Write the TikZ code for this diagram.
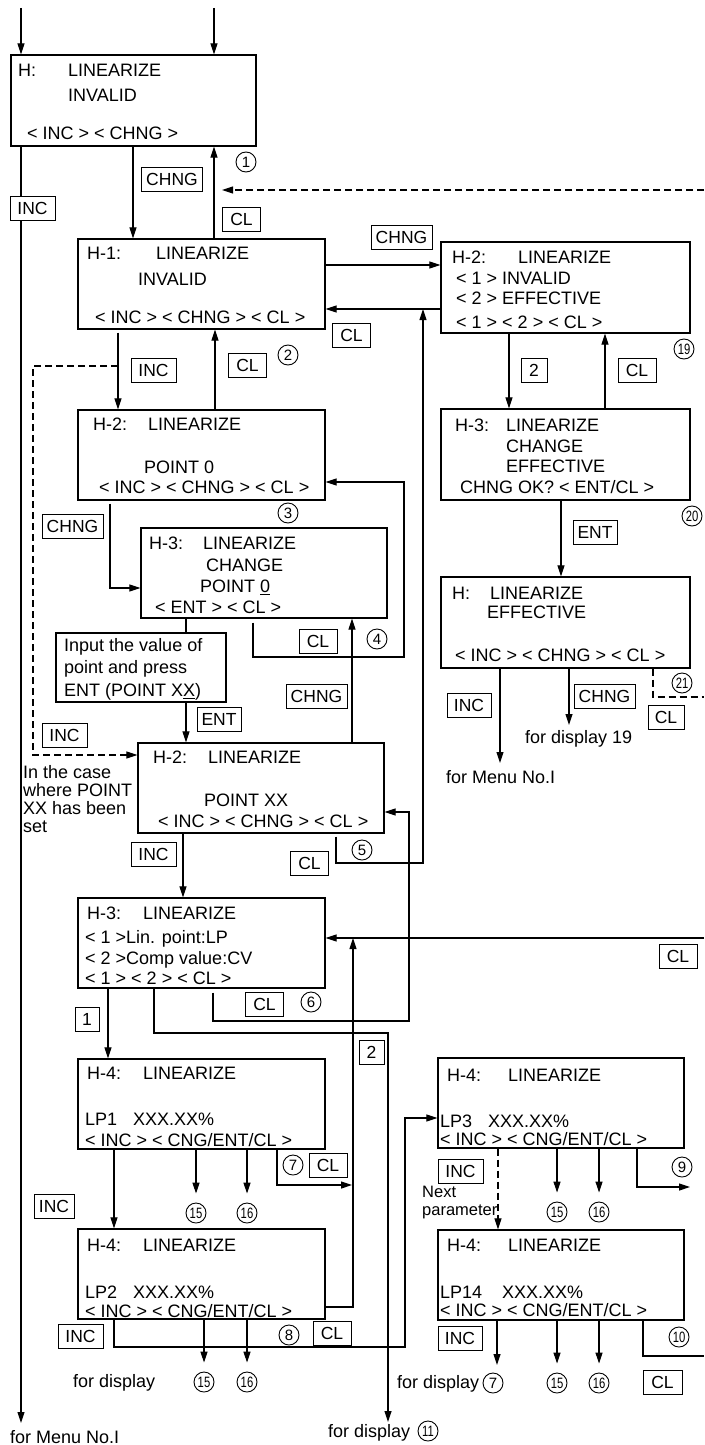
\documentclass[tikz,border=0pt]{standalone}
\usepackage{fontspec}
\setmainfont{Liberation Sans}
\usetikzlibrary{arrows.meta}
\newcommand\dtxt{\fontsize{18pt}{20pt}\selectfont}
\newcommand\stxt{\fontsize{16.5pt}{18pt}\selectfont}
\newcommand\ktxt{\fontsize{17.5pt}{19pt}\selectfont}
\newcommand\ntxt{\fontsize{15pt}{16pt}\selectfont}
\newcommand\nn[1]{\scalebox{0.75}[1]{#1}}
\begin{document}
\begin{tikzpicture}[x=1pt,y=-1pt,
 disp/.style={draw, line width=1.2pt, inner sep=0pt},
 txt/.style={anchor=base west, inner sep=0pt, font=\dtxt},
 key/.style={draw, fill=white, line width=1pt, minimum height=24pt, minimum width=#1, inner xsep=3pt, inner ysep=0pt, font=\ktxt},
 key/.default=24pt,
 num/.style={draw, circle, line width=0.9pt, minimum size=20pt, inner sep=0pt, font=\ntxt},
 arr/.style={line width=1.1pt, -{Triangle[length=11pt,width=7pt]}},
 ln/.style={line width=1.1pt},
 dsh/.style={dash pattern=on 7pt off 4pt}]
\fill[white] (0,0) rectangle (704,1445);
\useasboundingbox (0,0) rectangle (704,1445);

% ---------- display boxes ----------
\node[disp, minimum width=245pt, minimum height=91pt] (h0)  at (133.5,100.5) {};
\node[disp, minimum width=247pt, minimum height=90pt] (h1)  at (201.5,284) {};
\node[disp, minimum width=249pt, minimum height=91pt] (r2)  at (565.5,287.5) {};
\node[disp, minimum width=247pt, minimum height=90pt] (h2a) at (201.5,455) {};
\node[disp, minimum width=246pt, minimum height=90pt] (h3a) at (264,573) {};
\node[disp, minimum width=170pt, minimum height=69pt] (note) at (141,667.5) {};
\node[disp, minimum width=246pt, minimum height=90pt] (h2b) at (261,788) {};
\node[disp, minimum width=247pt, minimum height=90pt] (h3b) at (201.5,943) {};
\node[disp, minimum width=247pt, minimum height=90pt] (lp1) at (201.5,1104) {};
\node[disp, minimum width=247pt, minimum height=90pt] (lp2) at (201.5,1274) {};
\node[disp, minimum width=249pt, minimum height=91pt] (r3)  at (565.5,454.5) {};
\node[disp, minimum width=249pt, minimum height=91pt] (rH)  at (565.5,622.5) {};
\node[disp, minimum width=246pt, minimum height=90pt] (lp3) at (561,1103) {};
\node[disp, minimum width=246pt, minimum height=90pt] (lp14) at (561,1275) {};

% ---------- texts in boxes ----------
\node[txt] (t01) at (18,76.5) {H:};
\node[txt] (t02) at (68,76.5) {LINEARIZE};
\node[txt] (t03) at (68,101.5) {INVALID};
\node[txt] (t04) at (27,139.5) {< INC > < CHNG >};

\node[txt] (t11) at (87,259.5) {H-1:};
\node[txt] (t12) at (156,259.5) {LINEARIZE};
\node[txt] (t13) at (138,285.5) {INVALID};
\node[txt] (t14) at (95,323.5) {< INC > < CHNG > < CL >};

\node[txt] (t21) at (452,263.5) {H-2:};
\node[txt] (t22) at (518,263.5) {LINEARIZE};
\node[txt] (t23) at (456,284.5) {< 1 > INVALID};
\node[txt] (t24) at (456,304.5) {< 2 > EFFECTIVE};
\node[txt] (t25) at (456,328.5) {< 1 > < 2 > < CL >};

\node[txt] (t31) at (93,430.5) {H-2:};
\node[txt] (t32) at (148,430.5) {LINEARIZE};
\node[txt] (t33) at (144,473.5) {POINT 0};
\node[txt] (t34) at (99,493.5) {< INC > < CHNG > < CL >};

\node[txt] (t41) at (149,549.5) {H-3:};
\node[txt] (t42) at (203,549.5) {LINEARIZE};
\node[txt] (t43) at (206,571.5) {CHANGE};
\node[txt] (t44) at (200,592.5) {POINT \underline{0}};
\node[txt] (t45) at (155,613.5) {< ENT > < CL >};

\node[txt] (t51) at (64,651.5) {Input the value of};
\node[txt] (t52) at (64,673.5) {point and press};
\node[txt] (t53) at (64,696.5) {ENT (POINT X\underline{X})};

\node[txt] (t61) at (153,763.5) {H-2:};
\node[txt] (t62) at (208,763.5) {LINEARIZE};
\node[txt] (t63) at (204,806.5) {POINT XX};
\node[txt] (t64) at (158,827.5) {< INC > < CHNG > < CL >};

\node[txt] (t71) at (87,919.5) {H-3:};
\node[txt] (t72) at (143,919.5) {LINEARIZE};
\node[txt] (t73) at (85,943.5) {< 1 >Lin. point:LP};
\node[txt] (t74) at (85,964.5) {< 2 >Comp value:CV};
\node[txt] (t75) at (85,984.5) {< 1 > < 2 > < CL >};

\node[txt] (t81) at (87,1079.5) {H-4:};
\node[txt] (t82) at (143,1079.5) {LINEARIZE};
\node[txt] (t83) at (85,1125.5) {LP1};
\node[txt] (t84) at (133,1125.5) {XXX.XX\%};
\node[txt] (t85) at (85,1146) {< INC > < CNG/ENT/CL >};

\node[txt] (t91) at (87,1251.5) {H-4:};
\node[txt] (t92) at (143,1251.5) {LINEARIZE};
\node[txt] (t93) at (85,1298) {LP2};
\node[txt] (t94) at (133,1298) {XXX.XX\%};
\node[txt] (t95) at (85,1317) {< INC > < CNG/ENT/CL >};

\node[txt] (ta1) at (455,431.5) {H-3:};
\node[txt] (ta2) at (506,431.5) {LINEARIZE};
\node[txt] (ta3) at (506,452.5) {CHANGE};
\node[txt] (ta4) at (506,472.5) {EFFECTIVE};
\node[txt] (ta5) at (460,493.5) {CHNG OK? < ENT/CL >};

\node[txt] (tb1) at (452,599.5) {H:};
\node[txt] (tb2) at (490,599.5) {LINEARIZE};
\node[txt] (tb3) at (487,618.5) {EFFECTIVE};
\node[txt] (tb4) at (455,661.5) {< INC > < CHNG > < CL >};

\node[txt] (tc1) at (447,1081.5) {H-4:};
\node[txt] (tc2) at (508,1081.5) {LINEARIZE};
\node[txt] (tc3) at (440,1127) {LP3};
\node[txt] (tc4) at (488,1127) {XXX.XX\%};
\node[txt] (tc5) at (440,1145) {< INC > < CNG/ENT/CL >};

\node[txt] (td1) at (447,1251.5) {H-4:};
\node[txt] (td2) at (508,1251.5) {LINEARIZE};
\node[txt] (td3) at (440,1298) {LP14};
\node[txt] (td4) at (502,1298) {XXX.XX\%};
\node[txt] (td5) at (440,1316.5) {< INC > < CNG/ENT/CL >};

% ---------- free texts ----------
\node[txt] (f1) at (23,778.5) {In the case};
\node[txt] (f2) at (23,796.5) {where POINT};
\node[txt] (f3) at (23,814.5) {XX has been};
\node[txt] (f4) at (23,832.5) {set};
\node[txt, font=\stxt] (f5) at (422,1197) {Next};
\node[txt, font=\stxt] (f6) at (422,1215.5) {parameter};
\node[txt] (f7) at (525,743.5) {for display 19};
\node[txt] (f8) at (446,783.5) {for Menu No.I};
\node[txt] (f9) at (73,1387.5) {for display};
\node[txt] (f10) at (397,1388.5) {for display};
\node[txt] (f11) at (328,1437.5) {for display};
\node[txt] (f12) at (10,1443) {for Menu No.I};

% ---------- circled numbers ----------
\node[num] (n1) at (246,162) {1};
\node[num] (n2) at (288,355) {2};
\node[num] (n3) at (288,513) {3};
\node[num] (n4) at (377,639) {4};
\node[num] (n5) at (362,850) {5};
\node[num] (n6) at (311,1002) {6};
\node[num] (n7) at (293,1165) {7};
\node[num] (n8) at (289,1335) {8};
\node[num] (n9) at (682,1167) {9};
\node[num] (n10) at (679,1337) {\nn{10}};
\node[num] (n15a) at (196,1213) {\nn{15}};
\node[num] (n16a) at (247,1213) {\nn{16}};
\node[num] (n15b) at (204,1382) {\nn{15}};
\node[num] (n16b) at (247,1382) {\nn{16}};
\node[num] (n15c) at (557,1212) {\nn{15}};
\node[num] (n16c) at (599,1212) {\nn{16}};
\node[num] (n15d) at (557,1383) {\nn{15}};
\node[num] (n16d) at (599,1383) {\nn{16}};
\node[num] (n7b) at (493,1383) {7};
\node[num] (n11) at (428,1431) {\nn{11}};
\node[num] (n19) at (684,349) {\nn{19}};
\node[num] (n20) at (692,516) {\nn{20}};
\node[num] (n21) at (682,683) {\nn{21}};

% ---------- connectors ----------
\coordinate (t1) at (21,8);
\coordinate (t2) at (214,8);
\coordinate (m1) at (21,1423);
\coordinate (x133) at (133,0);
\coordinate (d1) at (704,190);
\coordinate (d2) at (222,190);
\coordinate (y265) at (0,265);
\coordinate (y309) at (0,309);
\coordinate (c5a) at (336,863);
\coordinate (c5b) at (423,863);
\coordinate (c5c) at (423,309);
\coordinate (x118) at (118,0);
\coordinate (x215) at (215,0);
\coordinate (e1) at (118,366);
\coordinate (e2) at (33,366);
\coordinate (e3) at (33,755);
\coordinate (g0) at (110,588);
\coordinate (g1) at (253,657);
\coordinate (g2) at (404,657);
\coordinate (g3) at (404,482);
\coordinate (x186) at (186,0);
\coordinate (x352) at (352,0);
\coordinate (x183) at (183,0);
\coordinate (p6a) at (213,1021);
\coordinate (p6b) at (409,1021);
\coordinate (p6c) at (409,812);
\coordinate (q1) at (704,938);
\coordinate (x108) at (108,0);
\coordinate (s1) at (154,1033);
\coordinate (s2) at (388,1033);
\coordinate (s3) at (388,1422);
\coordinate (x114) at (114,0);
\coordinate (u1) at (277,1185);
\coordinate (u2) at (352,1185);
\coordinate (v1) at (353,1307);
\coordinate (v2) at (353,938);
\coordinate (w1) at (114,1347);
\coordinate (w2) at (405,1347);
\coordinate (w3) at (405,1118);
\coordinate (x498) at (498,0);
\coordinate (z1) at (637,1187);
\coordinate (z2) at (690,1187);
\coordinate (x497) at (497,1365);
\coordinate (z3) at (643,1356);
\coordinate (z4) at (704,1356);
\coordinate (x509) at (509,0);
\coordinate (x605) at (605,0);
\coordinate (x561) at (561,0);
\coordinate (r500) at (500,763);
\coordinate (r569) at (569,725);
\coordinate (o1) at (653,697);
\coordinate (o2) at (704,697);

\draw[arr] (t1) -- (t1 |- h0.north);
\draw[arr] (t2) -- (t2 |- h0.north);
\draw[arr] (m1 |- h0.south) -- (m1);
\draw[arr] (x133 |- h0.south) -- (x133 |- h1.north);
\draw[arr] (t2 |- h1.north) -- (t2 |- h0.south);
\draw[arr, dsh] (d1) -- (d2);
\draw[arr] (h1.east |- y265) -- (r2.west |- y265);
\draw[arr] (r2.west |- y309) -- (h1.east |- y309);
\draw[arr, shorten <=3pt] (c5a |- h2b.south) -- (c5a) -- (c5b) -- (c5c);
\draw[arr, shorten <=3pt] (x118 |- h1.south) -- (x118 |- h2a.north);
\draw[arr] (x215 |- h2a.north) -- (x215 |- h1.south);
\draw[arr, dsh] (e1) -- (e2) -- (e3) -- (h2b.west |- e3);
\draw[arr, shorten <=3pt] (g0 |- h2a.south) -- (g0) -- (h3a.west |- g0);
\draw[arr, shorten <=4pt] (g1 |- h3a.south) -- (g1) -- (g2) -- (g3) -- (h2a.east |- g3);
\draw[ln] (x186 |- h3a.south) -- (x186 |- note.north);
\draw[arr] (x186 |- note.south) -- (x186 |- h2b.north);
\draw[arr] (x352 |- h2b.north) -- (x352 |- h3a.south);
\draw[arr] (x183 |- h2b.south) -- (x183 |- h3b.north);
\draw[arr, shorten <=4pt] (p6a |- h3b.south) -- (p6a) -- (p6b) -- (p6c) -- (h2b.east |- p6c);
\draw[arr] (q1) -- (h3b.east |- q1);
\draw[arr] (x108 |- h3b.south) -- (x108 |- lp1.north);
\draw[arr] (s1 |- h3b.south) -- (s1) -- (s2) -- (s3);
\draw[arr] (x114 |- lp1.south) -- (x114 |- lp2.north);
\draw[arr, shorten >=9pt] (n15a |- lp1.south) -- (n15a.north);
\draw[arr, shorten >=9pt] (n16a |- lp1.south) -- (n16a.north);
\draw[arr] (u1 |- lp1.south) -- (u1) -- (u2);
\draw[arr] (lp2.east |- v1) -- (v1) -- (v2);
\draw[arr] (w1 |- lp2.south) -- (w1) -- (w2) -- (w3) -- (lp3.west |- w3);
\draw[arr, shorten >=9pt] (n15b |- lp2.south) -- (n15b.north);
\draw[arr, shorten >=9pt] (n16b |- lp2.south) -- (n16b.north);
\draw[arr, dsh] (x498 |- lp3.south) -- (x498 |- lp14.north);
\draw[arr, shorten >=9pt] (n15c |- lp3.south) -- (n15c.north);
\draw[arr, shorten >=9pt] (n16c |- lp3.south) -- (n16c.north);
\draw[arr] (z1 |- lp3.south) -- (z1) -- (z2);
\draw[arr] (x497 |- lp14.south) -- (x497);
\draw[arr, shorten >=9pt] (n15d |- lp14.south) -- (n15d.north);
\draw[arr, shorten >=9pt] (n16d |- lp14.south) -- (n16d.north);
\draw[ln] (z3 |- lp14.south) -- (z3) -- (z4);
\draw[arr] (x509 |- r2.south) -- (x509 |- r3.north);
\draw[arr] (x605 |- r3.north) -- (x605 |- r2.south);
\draw[arr] (x561 |- r3.south) -- (x561 |- rH.north);
\draw[arr] (r500 |- rH.south) -- (r500);
\draw[arr] (r569 |- rH.south) -- (r569);
\draw[ln, dsh] (o1 |- rH.south) -- (o1) -- (o2);

% ---------- key labels ----------
\node[key=45pt] (kA) at (32.5,208.5) {INC};
\node[key=61pt] (kB) at (172,179) {CHNG};
\node[key=38pt] (kC) at (241.5,219.5) {CL};
\node[key=61pt] (kD) at (401.5,237) {CHNG};
\node[key=38pt] (kE) at (351.5,335) {CL};
\node[key=45pt] (kF) at (153.5,370) {INC};
\node[key=38pt] (kG) at (247.5,365.5) {CL};
\node[key=45pt] (kH) at (64.5,735) {INC};
\node[key=61pt] (kI) at (72.5,526) {CHNG};
\node[key=38pt] (kJ) at (318,641) {CL};
\node[key=44pt] (kK) at (219,719.5) {ENT};
\node[key=61pt] (kL) at (316.5,696) {CHNG};
\node[key=45pt] (kM) at (153.5,854) {INC};
\node[key=38pt] (kN) at (309.5,863) {CL};
\node[key=38pt] (kO) at (264.5,1004.5) {CL};
\node[key=38pt] (kP) at (678,956) {CL};
\node[key=24pt] (kQ) at (87,1019.5) {1};
\node[key=25pt] (kR) at (371.5,1052) {2};
\node[key=40pt] (kS) at (54,1206) {INC};
\node[key=38pt] (kT) at (328,1165) {CL};
\node[key=45pt] (kU) at (80.5,1336.5) {INC};
\node[key=38pt] (kV) at (332,1333.5) {CL};
\node[key=45pt] (kW) at (460.5,1171.5) {INC};
\node[key=44pt] (kX) at (460,1338) {INC};
\node[key=39pt] (kY) at (662.5,1382) {CL};
\node[key=26pt] (kZ) at (534,370) {2};
\node[key=38pt] (ka) at (637,370) {CL};
\node[key=44pt] (kb) at (595,532.5) {ENT};
\node[key=44pt] (kc) at (469,705) {INC};
\node[key=61pt] (kd) at (604.5,696) {CHNG};
\node[key=36pt] (ke) at (666,717) {CL};
\end{tikzpicture}
\end{document}
